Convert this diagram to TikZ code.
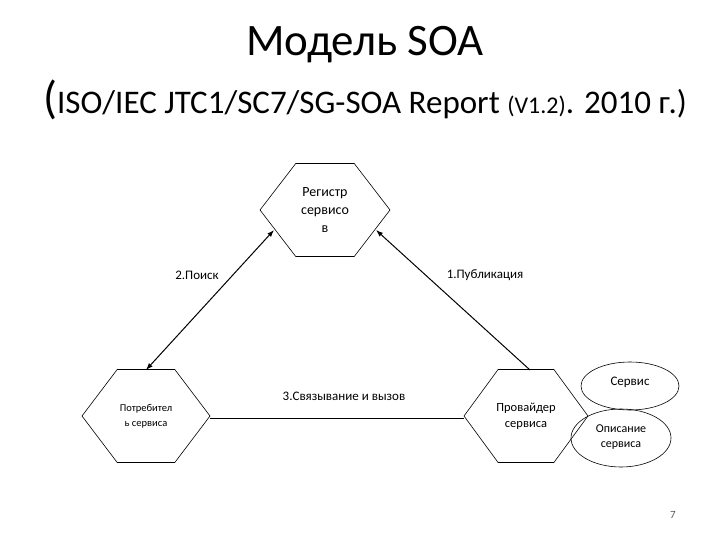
\documentclass[tikz,border=0pt]{standalone}
\usepackage{fontspec}
\setmainfont{Carlito}
\usetikzlibrary{calc,arrows.meta}
\begin{document}
\begin{tikzpicture}[x=1pt,y=-1pt,
  lbl/.style={font=\fontsize{13}{15}\selectfont, align=center},
  arr/.style={-{Latex[length=7pt,width=5pt]}, line width=1pt},
  hexo/.style={draw, line width=0.6pt}]
\useasboundingbox (0,0) rectangle (720,540);
\node (t1) at (365,45) {\fontsize{45}{50}\selectfont Модель SOA};
\node (t2) at (365,100) {\fontsize{46}{50}\selectfont(\fontsize{33}{38}\selectfont ISO/IEC JTC1/SC7/SG-SOA Report \fontsize{24}{28}\selectfont(V1.2)\fontsize{33}{38}\selectfont. 2010 г.)};
% hexagons
\newcommand{\hexag}[4]{% name, x, y, halfwidth
  \node[lbl] (#1) at (#2,#3) {};
  \draw[hexo] ($(#1)+(-#4,0)$) -- ($(#1)+(-#4*0.45,-46.5)$) -- ($(#1)+(#4*0.45,-46.5)$) -- ($(#1)+(#4,0)$) -- ($(#1)+(#4*0.45,46.5)$) -- ($(#1)+(-#4*0.45,46.5)$) -- cycle;}
\hexag{reg}{325}{210}{65}
\hexag{con}{146}{416}{64}
\hexag{pro}{526}{416}{62}
\node[lbl, font=\fontsize{14}{18}\selectfont] at (reg) {Регистр\\сервисо\\в};
\node[lbl, font=\fontsize{10.5}{15}\selectfont] at (con) {Потребител\\ь сервиса};
\node[lbl, font=\fontsize{12.5}{16}\selectfont] at (pro) {Провайдер\\сервиса};
\coordinate (regL) at (274,230);
\coordinate (regR) at (376,230);
\coordinate (conT) at (146,370);
\coordinate (proT) at (530,370);
\coordinate (conR) at (210,418);
\coordinate (proL) at (464,418);
\draw[arr, {Latex[length=7pt,width=5pt]}-{Latex[length=7pt,width=5pt]}] (regL) -- (conT);
\draw[arr] (proT) -- (regR);
\draw[line width=0.8pt] (conR) -- (proL);
\node[lbl] (l2) at (197,275) {2.Поиск};
\node[lbl] (l1) at (485,275) {1.Публикация};
\node[lbl] (l3) at (344,396) {3.Связывание и вызов};
\draw[line width=0.6pt] (630,386) ellipse [x radius=49, y radius=24];
\node[lbl] (srv) at (630,382) {Сервис};
\draw[line width=0.6pt] (621,438) ellipse [x radius=50, y radius=29];
\node[lbl, font=\fontsize{12}{15}\selectfont] (opis) at (621,437) {Описание\\сервиса};
\node[font=\fontsize{11}{13}\selectfont, text=gray!70!black] (pg) at (673,515) {7};
\end{tikzpicture}
\end{document}
